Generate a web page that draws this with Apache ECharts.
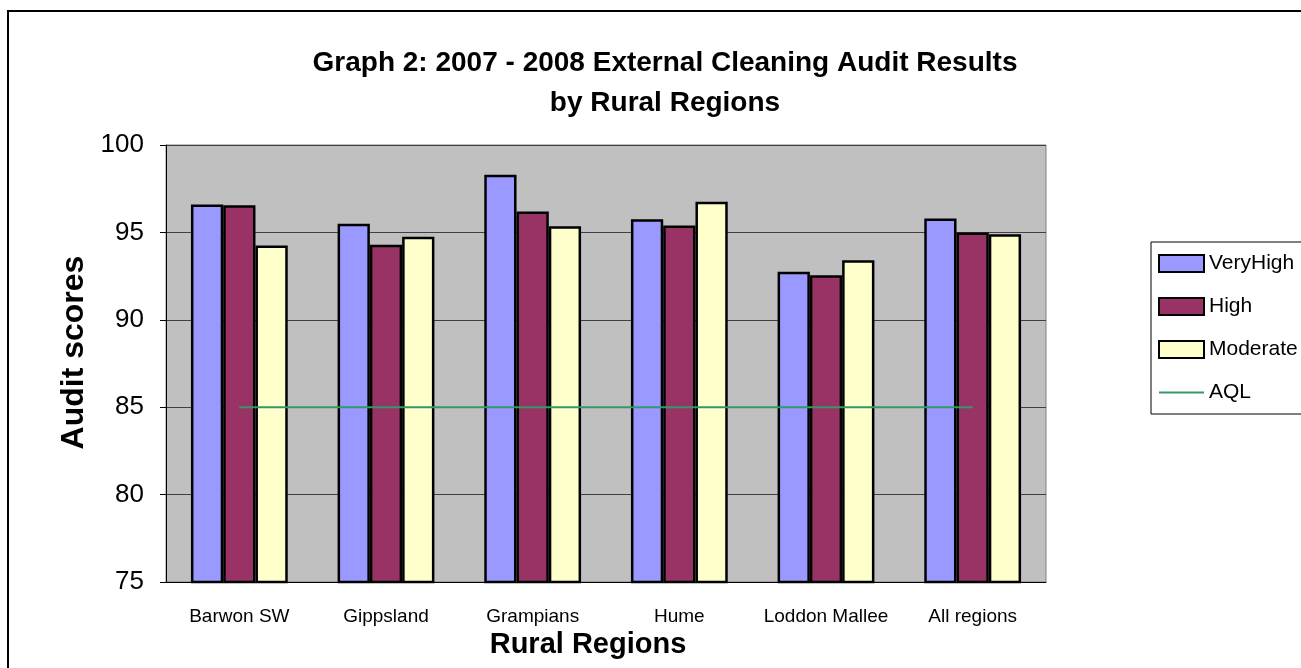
<!DOCTYPE html>
<html>
<head>
<meta charset="utf-8">
<title>External Cleaning Audit Results</title>
<script src="https://cdn.jsdelivr.net/npm/echarts@6/dist/echarts.min.js"></script>
<style>
  html, body { margin: 0; padding: 0; background: #fff; }
  #chart { width: 1301px; height: 668px; }
</style>
</head>
<body>
<div id="chart"></div>
<script>
const categories = ['Barwon SW', 'Gippsland', 'Grampians', 'Hume', 'Loddon Mallee', 'All regions']
const veryHigh = [96.6, 95.5, 98.3, 95.75, 92.75, 95.8]
const high = [96.55, 94.3, 96.2, 95.4, 92.55, 95.0]
const moderate = [94.25, 94.75, 95.35, 96.75, 93.4, 94.9]
const aql = [85, 85, 85, 85, 85, 85]

const font = "'Liberation Sans', Arial, sans-serif"
const barBorder = { borderColor: '#000', borderWidth: 2.5 }

const chart = echarts.init(document.getElementById('chart'))

chart.setOption({
  animation: false,
  textStyle: { fontFamily: font },
  title: {
    text: 'Graph 2: 2007 - 2008 External Cleaning Audit Results\nby Rural Regions',
    left: 660,
    top: 38,
    textAlign: 'center',
    textStyle: { fontSize: 28, fontWeight: 'bold', color: '#000', lineHeight: 40, fontFamily: font }
  },
  graphic: [{
    type: 'rect',
    shape: { x: 8, y: 11, width: 1400, height: 800 },
    style: { fill: 'none', stroke: '#000', lineWidth: 2 },
    silent: true
  }],
  legend: {
    orient: 'vertical',
    left: 1151,
    top: 242,
    padding: [11, 40, 11, 7],
    itemWidth: 45,
    itemHeight: 17,
    itemGap: 22,
    borderColor: '#000',
    borderWidth: 1,
    textStyle: { fontSize: 21, color: '#000', lineHeight: 18, fontFamily: font },
    data: [
      { name: 'VeryHigh', icon: 'rect' },
      { name: 'High', icon: 'rect' },
      { name: 'Moderate', icon: 'rect' },
      { name: 'AQL', icon: 'path://M0,0H45V2H0Z' }
    ]
  },
  grid: {
    left: 166,
    right: 255,
    top: 145,
    bottom: 86,
    show: true,
    backgroundColor: '#C0C0C0',
    borderColor: '#808080',
    borderWidth: 1
  },
  xAxis: {
    type: 'category',
    data: categories,
    name: 'Rural Regions',
    nameLocation: 'middle',
    nameGap: 45,
    nameTextStyle: { fontSize: 29, fontWeight: 'bold', color: '#000', padding: [0, 36, 0, 0] },
    axisLine: { lineStyle: { color: '#000', width: 1 } },
    axisTick: { length: 6, lineStyle: { color: '#000' } },
    axisLabel: { interval: 0, fontSize: 19, color: '#000', margin: 25 }
  },
  yAxis: {
    type: 'value',
    min: 75,
    max: 100,
    interval: 5,
    name: 'Audit scores',
    nameLocation: 'middle',
    nameGap: 75,
    nameTextStyle: { fontSize: 32, fontWeight: 'bold', color: '#000', padding: [0, 0, 0, 22] },
    axisLine: { show: true, lineStyle: { color: '#000', width: 1 } },
    axisTick: { show: true, length: 6, lineStyle: { color: '#000' } },
    axisLabel: { fontSize: 26, color: '#000', margin: 22 },
    splitLine: { lineStyle: { color: '#404040', width: 1 } }
  },
  series: [
    {
      name: 'VeryHigh',
      type: 'bar',
      data: veryHigh,
      barGap: '0%',
      barCategoryGap: '34%',
      itemStyle: Object.assign({ color: '#9999FF' }, barBorder)
    },
    {
      name: 'High',
      type: 'bar',
      data: high,
      itemStyle: Object.assign({ color: '#993366' }, barBorder)
    },
    {
      name: 'Moderate',
      type: 'bar',
      data: moderate,
      itemStyle: Object.assign({ color: '#FFFFCC' }, barBorder)
    },
    {
      name: 'AQL',
      type: 'line',
      data: aql,
      symbol: 'none',
      lineStyle: { color: '#339966', width: 2 },
      itemStyle: { color: '#339966' }
    }
  ]
})
</script>
</body>
</html>
